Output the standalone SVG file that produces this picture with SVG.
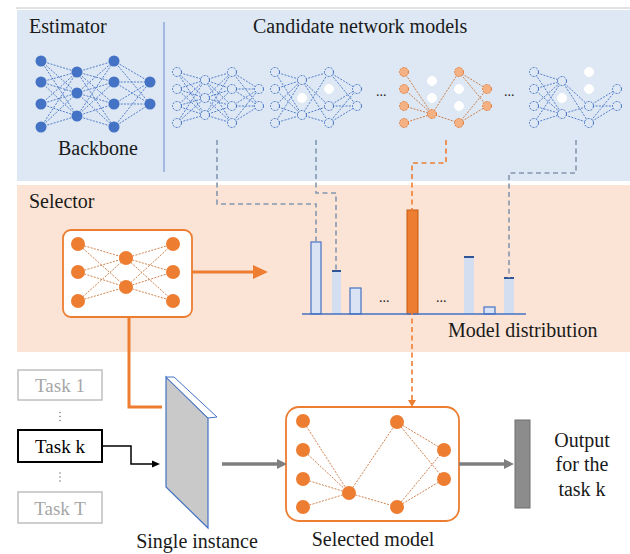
<svg xmlns="http://www.w3.org/2000/svg" width="630" height="554" viewBox="0 0 630 554">
<style>
text{font-family:'Liberation Serif','Times New Roman',serif;font-size:20px;fill:#1a1a1a}
.bl{fill:#4472c4}
.ho{fill:#dde8f4;stroke:#4472c4;stroke-width:1;stroke-dasharray:2 1.2}
.wh{fill:#ffffff;stroke:#ffffff;stroke-width:1}
.be{fill:none;stroke:#4472c4;stroke-width:0.9;stroke-dasharray:2 1.3}
.oe{fill:none;stroke:#c8743a;stroke-width:0.9;stroke-dasharray:2 1.3}
.on{fill:#ed7d31}
.ol{fill:#f4b183;stroke:#e07b39;stroke-width:1;stroke-dasharray:2 1.2}
.gd{fill:none;stroke:#8497b0;stroke-width:1.6;stroke-dasharray:5 3.5}
.bar{fill:#dae3f3;stroke:#4472c4;stroke-width:1.2}
.barf{fill:#d3def0}
.bart{stroke:#2f5597;stroke-width:2}
.task{fill:#ffffff;stroke:#bfbfbf;stroke-width:1.5}
.tg{fill:#a6a6a6;font-size:19px}
.sm{font-size:14px}
</style>
<rect x="0" y="0" width="630" height="554" fill="#ffffff"/>
<line x1="16" y1="8" x2="630" y2="8" stroke="#c4c4c4" stroke-width="1"/>
<rect id="estimator-panel" x="17" y="10" width="613" height="171" fill="#dde8f4"/>
<rect id="selector-panel" x="17" y="185" width="613" height="167" fill="#fbe4d5"/>
<line x1="164" y1="22" x2="164" y2="172" stroke="#8faadc" stroke-width="1.5"/>
<text x="29" y="33">Estimator</text>
<text x="253" y="33">Candidate network models</text>
<text x="29" y="208">Selector</text>

<g id="backbone">
<path class="be" d="M41 61L77 72M41 61L77 93M41 61L77 116M41 82L77 72M41 82L77 93M41 82L77 116M41 104L77 72M41 104L77 93M41 104L77 116M41 127L77 72M41 127L77 93M41 127L77 116M77 72L114 61M77 72L114 82M77 72L114 104M77 72L114 127M77 93L114 61M77 93L114 82M77 93L114 104M77 93L114 127M77 116L114 61M77 116L114 82M77 116L114 104M77 116L114 127M114 61L150 82M114 61L150 104M114 82L150 82M114 82L150 104M114 104L150 82M114 104L150 104M114 127L150 82M114 127L150 104"/>
<g class="bl">
<circle cx="41" cy="61" r="5.5"/><circle cx="41" cy="82" r="5.5"/><circle cx="41" cy="104" r="5.5"/><circle cx="41" cy="127" r="5.5"/>
<circle cx="77" cy="72" r="5.5"/><circle cx="77" cy="93" r="5.5"/><circle cx="77" cy="116" r="5.5"/>
<circle cx="114" cy="61" r="5.5"/><circle cx="114" cy="82" r="5.5"/><circle cx="114" cy="104" r="5.5"/><circle cx="114" cy="127" r="5.5"/>
<circle cx="150" cy="82" r="5.5"/><circle cx="150" cy="104" r="5.5"/>
</g>
<text x="58" y="155">Backbone</text>
</g>

<g id="candidate-1">
<path class="be" d="M177 72L205 80M177 72L205 98M177 72L205 115M177 89L205 80M177 89L205 98M177 89L205 115M177 106L205 80M177 106L205 98M177 106L205 115M177 123L205 80M177 123L205 98M177 123L205 115M205 80L232 72M205 80L232 89M205 80L232 106M205 80L232 123M205 98L232 72M205 98L232 89M205 98L232 106M205 98L232 123M205 115L232 72M205 115L232 89M205 115L232 106M205 115L232 123M232 72L259 89M232 72L259 106M232 89L259 89M232 89L259 106M232 106L259 89M232 106L259 106M232 123L259 89M232 123L259 106"/>
<g class="ho">
<circle cx="177" cy="72" r="4.5"/><circle cx="177" cy="89" r="4.5"/><circle cx="177" cy="106" r="4.5"/><circle cx="177" cy="123" r="4.5"/>
<circle cx="205" cy="80" r="4.5"/><circle cx="205" cy="98" r="4.5"/><circle cx="205" cy="115" r="4.5"/>
<circle cx="232" cy="72" r="4.5"/><circle cx="232" cy="89" r="4.5"/><circle cx="232" cy="106" r="4.5"/><circle cx="232" cy="123" r="4.5"/>
<circle cx="259" cy="89" r="4.5"/><circle cx="259" cy="106" r="4.5"/>
</g>
</g>

<g id="candidate-2">
<path class="be" d="M275 72L302 80M275 72L302 115M275 89L302 80M275 89L302 115M275 106L302 80M275 106L302 115M275 123L302 80M275 123L302 115M302 80L329 72M302 80L329 106M302 80L329 123M302 115L329 72M302 115L329 106M302 115L329 123M329 72L357 89M329 72L357 106M329 106L357 89M329 106L357 106M329 123L357 89M329 123L357 106"/>
<g class="ho">
<circle cx="275" cy="72" r="4.5"/><circle cx="275" cy="89" r="4.5"/><circle cx="275" cy="106" r="4.5"/><circle cx="275" cy="123" r="4.5"/>
<circle cx="302" cy="80" r="4.5"/><circle cx="302" cy="115" r="4.5"/>
<circle cx="329" cy="72" r="4.5"/><circle cx="329" cy="106" r="4.5"/><circle cx="329" cy="123" r="4.5"/>
<circle cx="357" cy="89" r="4.5"/><circle cx="357" cy="106" r="4.5"/>
</g>
<g class="wh"><circle cx="302" cy="98" r="4.5"/><circle cx="329" cy="89" r="4.5"/></g>
</g>
<text class="sm" x="376" y="96">...</text>

<g id="candidate-3">
<path class="oe" d="M404 72L432 114M404 89L432 114M404 106L432 114M404 123L432 114M432 114L459 72M432 114L459 123M459 72L487 89M459 72L487 106M459 123L487 89M459 123L487 106"/>
<g class="ol">
<circle cx="404" cy="72" r="4.5"/><circle cx="404" cy="89" r="4.5"/><circle cx="404" cy="106" r="4.5"/><circle cx="404" cy="123" r="4.5"/>
<circle cx="432" cy="114" r="4.5"/>
<circle cx="459" cy="72" r="4.5"/><circle cx="459" cy="123" r="4.5"/>
<circle cx="487" cy="89" r="4.5"/><circle cx="487" cy="106" r="4.5"/>
</g>
<g class="wh"><circle cx="432" cy="81" r="4.5"/><circle cx="432" cy="98" r="4.5"/><circle cx="459" cy="89" r="4.5"/><circle cx="459" cy="106" r="4.5"/></g>
</g>
<text class="sm" x="504" y="96">...</text>

<g id="candidate-4">
<path class="be" d="M534 72L562 81M534 72L562 114M534 89L562 81M534 89L562 114M534 106L562 81M534 106L562 114M534 123L562 81M534 123L562 114M562 81L589 106M562 81L589 123M562 114L589 106M562 114L589 123M589 106L617 89M589 106L617 106M589 123L617 89M589 123L617 106"/>
<g class="ho">
<circle cx="534" cy="72" r="4.5"/><circle cx="534" cy="89" r="4.5"/><circle cx="534" cy="106" r="4.5"/><circle cx="534" cy="123" r="4.5"/>
<circle cx="562" cy="81" r="4.5"/><circle cx="562" cy="114" r="4.5"/>
<circle cx="589" cy="106" r="4.5"/><circle cx="589" cy="123" r="4.5"/>
<circle cx="617" cy="89" r="4.5"/><circle cx="617" cy="106" r="4.5"/>
</g>
<g class="wh"><circle cx="562" cy="98" r="4.5"/><circle cx="589" cy="72" r="4.5"/><circle cx="589" cy="89" r="4.5"/></g>
</g>

<g id="selector">
<rect x="63" y="230" width="129" height="87" rx="8" fill="#ffffff" stroke="#ed7d31" stroke-width="1.8"/>
<path class="oe" d="M78 244L126 258M78 244L126 287M78 272L126 258M78 272L126 287M78 301L126 258M78 301L126 287M126 258L173 244M126 258L173 272M126 258L173 301M126 287L173 244M126 287L173 272M126 287L173 301"/>
<g class="on">
<circle cx="78" cy="244" r="7"/><circle cx="78" cy="272" r="7"/><circle cx="78" cy="301" r="7"/>
<circle cx="126" cy="258" r="7"/><circle cx="126" cy="287" r="7"/>
<circle cx="173" cy="244" r="7"/><circle cx="173" cy="272" r="7"/><circle cx="173" cy="301" r="7"/>
</g>
</g>

<g id="model-distribution">
<rect class="bar" x="311" y="242" width="10" height="72"/>
<rect class="barf" x="332" y="271" width="9" height="43"/><line class="bart" x1="332" y1="271" x2="341" y2="271"/>
<rect class="bar" x="350" y="288" width="11" height="26"/>
<text class="sm" x="379" y="302">...</text>
<rect x="407" y="210" width="11" height="104" fill="#ed7d31" stroke="#c55a11" stroke-width="1"/>
<text class="sm" x="436" y="302">...</text>
<rect class="barf" x="464" y="257" width="10" height="57"/><line class="bart" x1="464" y1="257" x2="474" y2="257"/>
<rect class="bar" x="484" y="307" width="11" height="7"/>
<rect class="barf" x="504" y="278" width="10" height="36"/><line class="bart" x1="504" y1="278" x2="514" y2="278"/>
<line x1="302" y1="314" x2="526" y2="314" stroke="#4472c4" stroke-width="1.5"/>
<text x="448" y="337">Model distribution</text>
</g>

<g id="tasks">
<rect class="task" x="18" y="370" width="84" height="30"/>
<text class="tg" x="60" y="392" text-anchor="middle">Task 1</text>
<g fill="#7f7f7f"><circle cx="60" cy="412.5" r="0.8"/><circle cx="60" cy="416.5" r="0.8"/><circle cx="60" cy="420.5" r="0.8"/></g>
<rect x="18" y="430" width="84" height="32" fill="#ffffff" stroke="#000000" stroke-width="2"/>
<text x="60" y="453" text-anchor="middle" style="font-size:19px;fill:#000">Task k</text>
<g fill="#7f7f7f"><circle cx="60" cy="473" r="0.8"/><circle cx="60" cy="477" r="0.8"/><circle cx="60" cy="481" r="0.8"/></g>
<rect class="task" x="18" y="492" width="84" height="31"/>
<text class="tg" x="60" y="515" text-anchor="middle">Task T</text>
</g>

<g id="single-instance">
<polygon points="166,377 208,418 208,528 166,487" fill="#c9c9c9" stroke="#4472c4" stroke-width="1.2"/>
<polygon points="166,377 174,377 217,417 208,418" fill="#ffffff" stroke="#4472c4" stroke-width="1"/>
<text x="197" y="548" text-anchor="middle">Single instance</text>
</g>

<g id="selected-model">
<rect x="286" y="407" width="173" height="114" rx="13" fill="#ffffff" stroke="#ed7d31" stroke-width="1.8"/>
<path class="oe" d="M303 421L349 493M303 450L349 493M303 479L349 493M303 507L349 493M349 493L397 422M349 493L397 507M397 422L444 450M397 422L444 479M397 507L444 450M397 507L444 479"/>
<g class="on">
<circle cx="303" cy="421" r="7"/><circle cx="303" cy="450" r="7"/><circle cx="303" cy="479" r="7"/><circle cx="303" cy="507" r="7"/>
<circle cx="349" cy="493" r="7"/>
<circle cx="397" cy="422" r="7"/><circle cx="397" cy="507" r="7"/>
<circle cx="444" cy="450" r="7"/><circle cx="444" cy="479" r="7"/>
</g>
<text x="373" y="546" text-anchor="middle">Selected model</text>
</g>

<g id="output">
<rect x="515" y="420" width="15" height="88" fill="#8c8c8c" stroke="#6f6f6f" stroke-width="1"/>
<text x="582" y="447" text-anchor="middle">Output</text>
<text x="582" y="471" text-anchor="middle">for the</text>
<text x="582" y="496" text-anchor="middle">task k</text>
</g>

<g id="connectors">
<path class="gd" d="M217 140V204H316V242"/>
<path class="gd" d="M316 140V193H336V270"/>
<path class="gd" d="M576 140V173H509V278"/>
<path d="M446 140V163H412V401" fill="none" stroke="#ed7d31" stroke-width="1.6" stroke-dasharray="5 3.5"/>
<polygon points="408,400 416,400 412,407" fill="#ed7d31"/>
<line x1="192" y1="272" x2="256" y2="272" stroke="#ed7d31" stroke-width="3"/>
<polygon points="253,265 268,272 253,279" fill="#ed7d31"/>
<path d="M129 317V407H162" fill="none" stroke="#ed7d31" stroke-width="3"/>
<path d="M102 446H131V464H154" fill="none" stroke="#000000" stroke-width="1.5"/>
<polygon points="152,460.5 160,464 152,467.5" fill="#000000"/>
<line x1="222" y1="464" x2="279" y2="464" stroke="#7f7f7f" stroke-width="3.5"/>
<polygon points="277,459 287,464 277,469" fill="#7f7f7f"/>
<line x1="459" y1="464" x2="506" y2="464" stroke="#7f7f7f" stroke-width="3.5"/>
<polygon points="504,459 514,464 504,469" fill="#7f7f7f"/>
</g>
</svg>
